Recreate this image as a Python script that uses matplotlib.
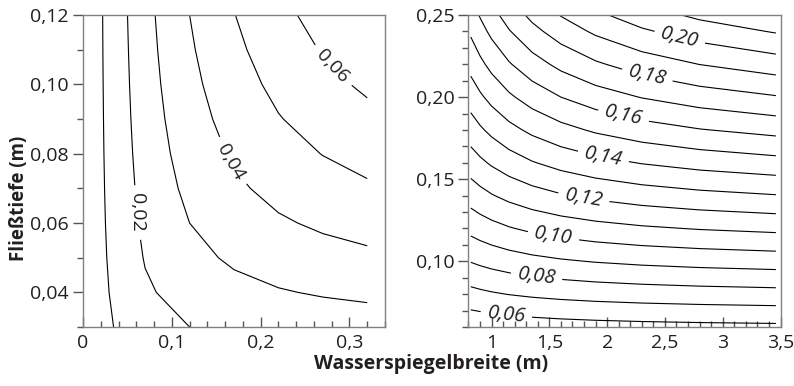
"""Hydraulic radius contours for a rectangular channel"""

import matplotlib
matplotlib.use("Agg")
import matplotlib.pyplot as plt
from matplotlib.ticker import MultipleLocator, FuncFormatter

# Left panel: small widths
breite_klein = [0.02, 0.07, 0.12, 0.17, 0.22, 0.27, 0.32]
tiefe_klein = [0.03, 0.04, 0.05, 0.06, 0.07, 0.08, 0.09, 0.10, 0.11, 0.12]
r_klein = [
	[0.007500, 0.016154, 0.020000, 0.022174, 0.023571, 0.024545, 0.025263],
	[0.008000, 0.018667, 0.024000, 0.027200, 0.029333, 0.030857, 0.032000],
	[0.008333, 0.020588, 0.027273, 0.031481, 0.034375, 0.036486, 0.038095],
	[0.008571, 0.022105, 0.030000, 0.035172, 0.038824, 0.041538, 0.043636],
	[0.008750, 0.023333, 0.032308, 0.038387, 0.042778, 0.046098, 0.048696],
	[0.008889, 0.024348, 0.034286, 0.041212, 0.046316, 0.050233, 0.053333],
	[0.009000, 0.025200, 0.036000, 0.043714, 0.049500, 0.054000, 0.057600],
	[0.009091, 0.025926, 0.037500, 0.045946, 0.052381, 0.057447, 0.061538],
	[0.009167, 0.026552, 0.038824, 0.047949, 0.055000, 0.060612, 0.065185],
	[0.009231, 0.027097, 0.040000, 0.049756, 0.057391, 0.063529, 0.068571],
]
stufen_klein = [0.01, 0.03, 0.05]
beschriftet_klein = [0.02, 0.04, 0.06]

# Right panel: large widths
breite_gross = [0.82, 0.9, 1.0, 1.15, 1.35, 1.6, 1.9, 2.3, 2.8, 3.46]
tiefe_gross = [0.06, 0.08, 0.10, 0.12, 0.14, 0.16, 0.18, 0.20, 0.22, 0.24, 0.25]
r_gross = [
	[0.052340, 0.052941, 0.053571, 0.054331, 0.055102, 0.055814, 0.056436, 0.057025, 0.057534, 0.057989],
	[0.066939, 0.067925, 0.068966, 0.070229, 0.071523, 0.072727, 0.073786, 0.074797, 0.075676, 0.076464],
	[0.080392, 0.081818, 0.083333, 0.085185, 0.087097, 0.088889, 0.090476, 0.092000, 0.093333, 0.094536],
	[0.092830, 0.094737, 0.096774, 0.099281, 0.101887, 0.104348, 0.106542, 0.108661, 0.110526, 0.112216],
	[0.104364, 0.106780, 0.109375, 0.112587, 0.115951, 0.119149, 0.122018, 0.124806, 0.127273, 0.129519],
	[0.115088, 0.118033, 0.121212, 0.125170, 0.129341, 0.133333, 0.136937, 0.140458, 0.143590, 0.146455],
	[0.125085, 0.128571, 0.132353, 0.137086, 0.142105, 0.146939, 0.151327, 0.155639, 0.159494, 0.163037],
	[0.134426, 0.138462, 0.142857, 0.148387, 0.154286, 0.160000, 0.165217, 0.170370, 0.175000, 0.179275],
	[0.143175, 0.147761, 0.152778, 0.159119, 0.165922, 0.172549, 0.178632, 0.184672, 0.190123, 0.195179],
	[0.151385, 0.156522, 0.162162, 0.169325, 0.177049, 0.184615, 0.191597, 0.198561, 0.204878, 0.210761],
	[0.155303, 0.160714, 0.166667, 0.174242, 0.182432, 0.190476, 0.197917, 0.205357, 0.212121, 0.218434],
]
stufen_gross = [0.07, 0.09, 0.11, 0.13, 0.15, 0.17, 0.19, 0.21]
beschriftet_gross = [0.06, 0.08, 0.10, 0.12, 0.14, 0.16, 0.18, 0.20]

# label positions (x, y) along the lines
pos_klein = [(0.061, 0.063), (0.169, 0.078), (0.282, 0.1056)]
pos_gross = [(1.13, 0.069), (1.39, 0.0915), (1.534, 0.1148), (1.794, 0.1372),
	(1.967, 0.1636), (2.14, 0.188), (2.342, 0.2114), (2.63, 0.2368)]


def komma(v, nachkomma):
	"""German decimal comma"""
	return f"{v:.{nachkomma}f}".replace(".", ",")


def achse_stil(ax):
	for s in ax.spines.values():
		s.set_color("#808080")
		s.set_linewidth(1.0)
	ax.tick_params(axis="x", which="both", direction="in", color="#555555", width=1.0, pad=5)
	ax.tick_params(axis="y", which="both", direction="out", color="#555555", width=1.0, pad=3)
	ax.tick_params(which="major", length=7, labelsize=14, labelcolor="#231f20")
	ax.tick_params(which="minor", length=4)


def main():
	plt.rcParams["font.family"] = ["Open Sans", "DejaVu Sans"]
	fig = plt.figure(figsize=(7.94, 3.86), dpi=100)

	ax1 = fig.add_axes([0.1045, 0.1528, 0.3804, 0.8083])
	ax2 = fig.add_axes([0.590, 0.1528, 0.393, 0.8083])

	#Left
	ax1.set_xlim(0, 0.34)
	ax1.set_ylim(0.03, 0.12)
	ax1.contour(breite_klein, tiefe_klein, r_klein, levels=stufen_klein,
		colors="black", linewidths=0.8)
	cs1 = ax1.contour(breite_klein, tiefe_klein, r_klein, levels=beschriftet_klein,
		colors="black", linewidths=0.8)
	lab1 = ax1.clabel(cs1, fmt=lambda v: komma(v, 2), fontsize=14,
		inline_spacing=8, manual=pos_klein)
	for t in lab1:
		t.set_color("#231f20")
		if t.get_text() == "0,02":
			t.set_rotation(-90)
	ax1.xaxis.set_major_locator(MultipleLocator(0.1))
	ax1.xaxis.set_minor_locator(MultipleLocator(0.02))
	ax1.yaxis.set_major_locator(MultipleLocator(0.02))
	ax1.yaxis.set_minor_locator(MultipleLocator(0.01))
	ax1.xaxis.set_major_formatter(FuncFormatter(lambda v, p: "0" if abs(v) < 1e-9 else komma(v, 1)))
	ax1.yaxis.set_major_formatter(FuncFormatter(lambda v, p: komma(v, 2)))
	achse_stil(ax1)

	#Right
	ax2.set_xlim(0.8, 3.5)
	ax2.set_ylim(0.06, 0.25)
	ax2.contour(breite_gross, tiefe_gross, r_gross, levels=stufen_gross,
		colors="black", linewidths=0.8)
	cs2 = ax2.contour(breite_gross, tiefe_gross, r_gross, levels=beschriftet_gross,
		colors="black", linewidths=0.8)
	lab2 = ax2.clabel(cs2, fmt=lambda v: komma(v, 2), fontsize=14.5,
		inline_spacing=6, manual=pos_gross)
	for t in lab2:
		t.set_fontstyle("italic")
		t.set_color("#231f20")
	ax2.xaxis.set_major_locator(MultipleLocator(0.5))
	ax2.xaxis.set_minor_locator(MultipleLocator(0.1))
	ax2.yaxis.set_major_locator(MultipleLocator(0.05))
	ax2.yaxis.set_minor_locator(MultipleLocator(0.01))
	ax2.xaxis.set_major_formatter(FuncFormatter(
		lambda v, p: str(int(round(v))) if abs(v - round(v)) < 1e-9 else komma(v, 1)))
	ax2.yaxis.set_major_formatter(FuncFormatter(lambda v, p: komma(v, 2)))
	achse_stil(ax2)

	fig.text(0.5435, 0.057, "Wasserspiegelbreite (m)", ha="center", va="center",
		fontsize=14, fontweight="bold", color="#231f20")
	fig.text(0.0245, 0.486, "Fließtiefe (m)", ha="center", va="center", rotation=90,
		fontsize=13.5, fontweight="bold", color="#231f20")

	fig.savefig("out.png", dpi=100)


if __name__ == "__main__":
	main()
